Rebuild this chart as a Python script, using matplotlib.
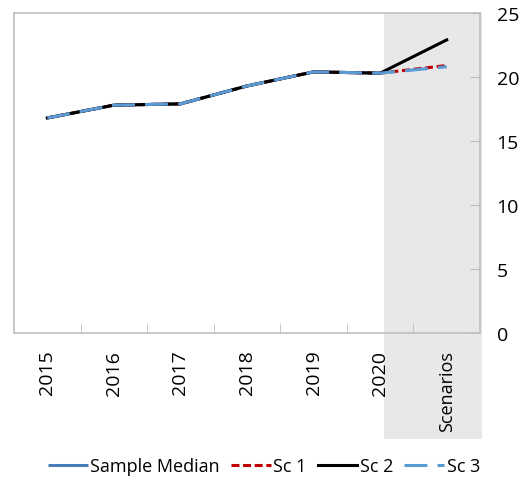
import matplotlib
matplotlib.use('Agg')
import matplotlib.pyplot as plt

plt.rcParams['font.family'] = ['Open Sans', 'DejaVu Sans']

categories = ["2015", "2016", "2017", "2018", "2019", "2020", "Scenarios"]
median = [16.8, 17.8, 17.9, 19.3, 20.4, 20.3]
sc1 = [16.8, 17.8, 17.9, 19.3, 20.4, 20.3, 20.9]
sc2 = [16.8, 17.8, 17.9, 19.3, 20.4, 20.3, 22.9]
sc3 = [16.8, 17.8, 17.9, 19.3, 20.4, 20.3, 20.8]
yticks = [0, 5, 10, 15, 20, 25]

fig = plt.figure(figsize=(5.28, 4.89), dpi=100)
ax = fig.add_axes([14 / 528, 1 - 334 / 489, 466 / 528, 320 / 489])

x = list(range(len(categories)))

# shaded scenario band, running below the axis into the label area
ax.axvspan(5.06, 6.53, ymin=-106 / 320, ymax=1, color="#e8e8e8", lw=0,
           clip_on=False, zorder=0)

ax.plot(x[:len(median)], median, color="#4a7ebb", lw=2.2, label="Sample Median",
        solid_capstyle="butt", zorder=3)
ax.plot(x, sc1, color="#c00000", lw=2.2, dashes=(2.6, 1.2), label="Sc 1", zorder=4)
ax.plot(x, sc2, color="#000000", lw=2.2, label="Sc 2", zorder=5)
ax.plot(x, sc3, color="#5b9bd5", lw=2.2, dashes=(7.5, 3.3), label="Sc 3", zorder=6)

ax.set_xlim(-0.5, 6.5)
ax.set_ylim(0, 25)

for s in ax.spines.values():
    s.set_color("#bfbfbf")
    s.set_linewidth(1.2)

ax.yaxis.tick_right()
ax.set_yticks(yticks)
ax.set_yticklabels([str(v) for v in yticks])
ax.tick_params(axis="y", direction="in", length=7, color="#bfbfbf", pad=12,
               labelsize=14, labelcolor="#000000")

ax.set_xticks(x)
ax.set_xticklabels(categories, rotation=90, va="top", ha="center")
ax.get_xticklabels()[-1].set_fontsize(13)
ax.set_xticks([i + 0.5 for i in range(6)], minor=True)
ax.tick_params(axis="x", which="major", length=0, pad=12, labelsize=14)
ax.get_xticklabels()[-1].set_fontsize(13)
ax.tick_params(axis="x", which="minor", direction="in", length=7, color="#bfbfbf")

ax.legend(loc="center", bbox_to_anchor=(0.5, 22 / 489), bbox_transform=fig.transFigure,
          ncol=4, frameon=False, fontsize=13, handlelength=2.2, handletextpad=0.15,
          columnspacing=0.6)

fig.savefig("out.png", dpi=100, facecolor="white")
plt.close(fig)
